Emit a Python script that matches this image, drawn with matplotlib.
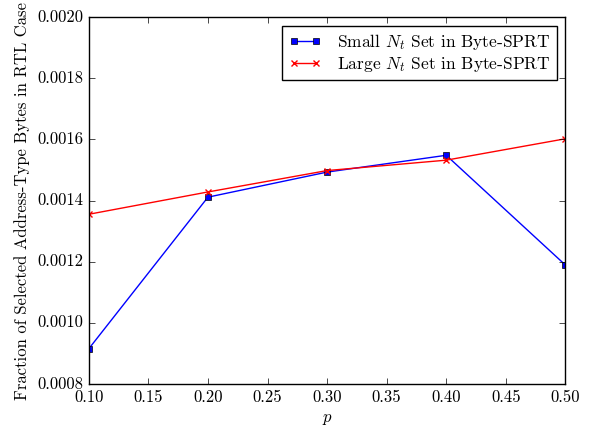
import matplotlib
matplotlib.use("Agg")
import matplotlib.pyplot as plt

plt.style.use("classic")
plt.rcParams["font.family"] = "serif"
plt.rcParams["font.serif"] = ["cmr10"]
plt.rcParams["mathtext.fontset"] = "cm"
plt.rcParams["axes.formatter.use_mathtext"] = True
plt.rcParams["axes.unicode_minus"] = False

p = [0.1, 0.2, 0.3, 0.4, 0.5]
small_nt = [0.000915, 0.001411, 0.001493, 0.001548, 0.001189]
large_nt = [0.001355, 0.001428, 0.001498, 0.001532, 0.001602]

fig = plt.figure(figsize=(5.92, 4.28), dpi=100)
ax = fig.add_axes([0.150, 0.103, 0.805, 0.857])

ax.plot(p, small_nt, "b-s", markersize=5, markeredgecolor="k", linewidth=1,
        label=r"Small $N_t$ Set in Byte-SPRT")
ax.plot(p, large_nt, "r-x", markersize=5, markeredgewidth=1, linewidth=1,
        label=r"Large $N_t$ Set in Byte-SPRT")

ax.set_xlim(0.1, 0.5)
ax.set_ylim(0.0008, 0.0020)
ax.set_xticks([0.10, 0.15, 0.20, 0.25, 0.30, 0.35, 0.40, 0.45, 0.50])
ax.set_xticklabels(["%.2f" % v for v in ax.get_xticks()])
ax.set_yticks([0.0008, 0.0010, 0.0012, 0.0014, 0.0016, 0.0018, 0.0020])
ax.set_yticklabels(["%.4f" % v for v in ax.get_yticks()])
ax.tick_params(labelsize=12)
ax.set_xlabel(r"$p$", fontsize=12)
ax.set_ylabel("Fraction of Selected Address-Type Bytes in RTL Case", fontsize=12)

ax.legend(loc="upper right", fontsize=12.5, numpoints=2, fancybox=False,
          handlelength=1.9, handletextpad=0.9, borderpad=0.35,
          labelspacing=0.2, borderaxespad=0.5)

fig.savefig("out.png", dpi=100)
